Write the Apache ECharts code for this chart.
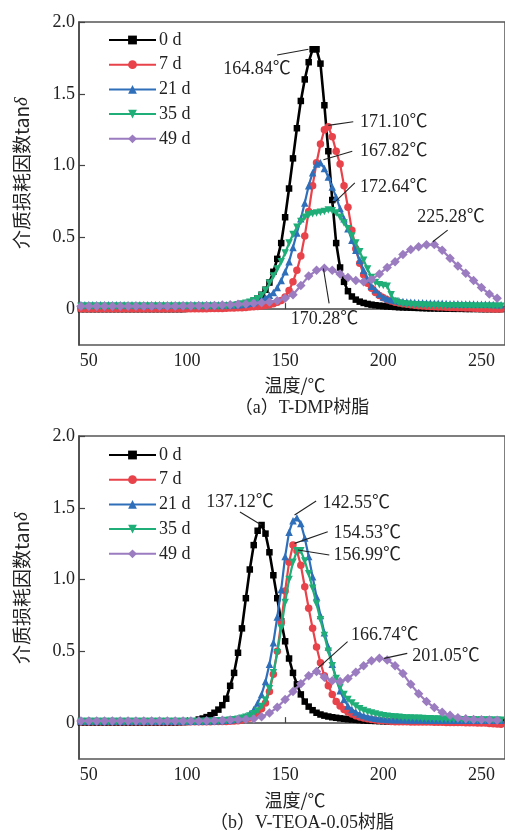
<!DOCTYPE html>
<html>
<head>
<meta charset="utf-8">
<script src="https://cdn.jsdelivr.net/npm/echarts@6/dist/echarts.min.js"></script>
<style>
html,body{margin:0;padding:0;background:#fff;}
#main{width:505px;height:834px;}
</style>
</head>
<body>
<div id="main"></div>
<script>
// ---------- DATA ----------
const seriesNames = ['0 d', '7 d', '21 d', '35 d', '49 d'];

// temperatures (°C) sampled for 0 d, 7 d, 21 d, 35 d
const temps = [
  46,48,50,52,54,56,58,60,62,64,
  66,68,70,72,74,76,78,80,82,84,
  86,88,90,92,94,96,98,100,102,104,
  106,108,110,112,114,116,118,120,122,124,
  126,128,130,132,134,136,138,140,142,144,
  146,148,150,152,154,156,158,160,162,164,
  166,168,170,172,174,176,178,180,182,184,
  186,188,190,192,194,196,198,200,202,204,
  206,208,210,212,214,216,218,220,222,224,
  226,228,230,232,234,236,238,240,242,244,
  246,248,250,252,254,256,258,260
];
// temperatures sampled for 49 d
const temps49 = [
  46,50,54,58,62,66,70,74,78,82,
  86,90,94,98,102,106,110,114,118,122,
  126,130,134,138,142,146,150,154,158,162,
  166,170,174,178,182,186,190,194,198,202,
  206,210,214,218,222,226,230,234,238,242,
  246,250,254,258
];

// (a) T-DMP resin
const a_0d = [
  0,0,0,0,0,0,0,0,0,0,
  0,0,0,0,0,0,0,0,0,0,
  0,0,0,0,0,0,0,0.002,0.003,0.004,
  0.005,0.006,0.007,0.008,0.01,0.012,0.014,0.016,0.018,0.021,
  0.025,0.03,0.036,0.045,0.058,0.075,0.1,0.135,0.185,0.26,
  0.35,0.46,0.64,0.84,1.05,1.26,1.45,1.6,1.72,1.81,
  1.81,1.71,1.42,1.1,0.76,0.46,0.29,0.19,0.125,0.088,
  0.066,0.052,0.043,0.036,0.031,0.027,0.024,0.021,0.019,0.017,
  0.015,0.013,0.012,0.011,0.01,0.009,0.008,0.007,0.006,0.005,
  0.005,0.004,0.004,0.003,0.003,0.002,0.002,0.002,0.001,0.001,
  0.001,0.001,0,0,0,0,0,0
];
const a_7d = [
  0.003,0.003,0.003,0.003,0.003,0.003,0.003,0.003,0.003,0.003,
  0.003,0.003,0.003,0.003,0.003,0.003,0.003,0.003,0.003,0.003,
  0.003,0.003,0.003,0.003,0.003,0.003,0.003,0.003,0.003,0.003,
  0.003,0.003,0.003,0.004,0.004,0.005,0.005,0.006,0.007,0.008,
  0.009,0.01,0.012,0.014,0.016,0.019,0.022,0.026,0.031,0.038,
  0.047,0.06,0.085,0.13,0.19,0.27,0.37,0.51,0.68,0.86,
  1.02,1.15,1.25,1.27,1.2,1.1,1.01,0.86,0.71,0.55,
  0.42,0.32,0.24,0.18,0.145,0.115,0.095,0.08,0.066,0.056,
  0.048,0.042,0.037,0.033,0.03,0.027,0.024,0.022,0.02,0.018,
  0.016,0.015,0.014,0.013,0.012,0.011,0.01,0.009,0.008,0.007,
  0.006,0.005,0.004,0.003,0.002,0.001,0,0
];
const a_21d = [
  0.03,0.03,0.03,0.03,0.03,0.03,0.03,0.03,0.03,0.03,
  0.03,0.03,0.03,0.03,0.03,0.03,0.03,0.03,0.03,0.03,
  0.03,0.03,0.03,0.03,0.03,0.03,0.03,0.03,0.03,0.03,
  0.03,0.03,0.03,0.03,0.03,0.03,0.03,0.03,0.03,0.031,
  0.031,0.032,0.035,0.04,0.046,0.055,0.066,0.08,0.096,0.115,
  0.15,0.2,0.26,0.33,0.43,0.53,0.63,0.74,0.86,0.95,
  1.01,1.02,0.98,0.92,0.85,0.78,0.7,0.63,0.56,0.48,
  0.41,0.34,0.27,0.21,0.16,0.135,0.105,0.085,0.073,0.066,
  0.06,0.056,0.053,0.05,0.048,0.046,0.045,0.044,0.043,0.042,
  0.041,0.04,0.04,0.039,0.038,0.038,0.037,0.036,0.036,0.035,
  0.035,0.034,0.034,0.033,0.033,0.032,0.032,0.031
];
const a_35d = [
  0.02,0.02,0.02,0.02,0.02,0.02,0.02,0.02,0.02,0.02,
  0.02,0.02,0.02,0.02,0.02,0.02,0.02,0.02,0.02,0.02,
  0.02,0.02,0.02,0.02,0.02,0.02,0.02,0.02,0.02,0.02,
  0.02,0.02,0.02,0.02,0.02,0.02,0.02,0.021,0.022,0.025,
  0.03,0.035,0.04,0.048,0.058,0.072,0.095,0.13,0.18,0.23,
  0.28,0.33,0.39,0.46,0.52,0.57,0.61,0.64,0.655,0.665,
  0.67,0.675,0.68,0.69,0.685,0.67,0.64,0.6,0.56,0.51,
  0.46,0.4,0.34,0.28,0.22,0.185,0.17,0.165,0.16,0.1,
  0.055,0.042,0.037,0.034,0.032,0.03,0.029,0.028,0.027,0.026,
  0.025,0.025,0.024,0.024,0.023,0.023,0.022,0.022,0.021,0.021,
  0.02,0.02,0.02,0.02,0.02,0.02,0.02,0.02
];
const a_49d = [
  0.02,0.02,0.02,0.02,0.02,0.02,0.02,0.02,0.02,0.02,
  0.02,0.02,0.02,0.021,0.022,0.023,0.024,0.026,0.028,0.03,
  0.033,0.036,0.04,0.044,0.05,0.058,0.075,0.1,0.165,0.23,
  0.27,0.285,0.27,0.245,0.22,0.2,0.19,0.205,0.245,0.29,
  0.33,0.38,0.415,0.435,0.448,0.45,0.41,0.355,0.3,0.25,
  0.2,0.15,0.105,0.075
];

// (b) V-TEOA-0.05 resin
const b_0d = [
  0.005,0.005,0.005,0.005,0.005,0.005,0.005,0.005,0.005,0.005,
  0.005,0.005,0.005,0.005,0.005,0.005,0.005,0.005,0.005,0.005,
  0.005,0.005,0.005,0.005,0.005,0.006,0.007,0.008,0.01,0.013,
  0.025,0.032,0.042,0.055,0.072,0.094,0.125,0.17,0.26,0.35,
  0.49,0.66,0.87,1.07,1.24,1.34,1.38,1.32,1.19,1.03,
  0.87,0.71,0.57,0.45,0.35,0.27,0.2,0.15,0.115,0.09,
  0.072,0.06,0.052,0.046,0.041,0.037,0.033,0.03,0.027,0.025,
  0.023,0.021,0.019,0.017,0.016,0.015,0.014,0.013,0.012,0.012,
  0.012,0.011,0.011,0.011,0.011,0.01,0.01,0.01,0.01,0.01,
  0.01,0.01,0.01,0.01,0.01,0.01,0.01,0.01,0.01,0.01,
  0.01,0.01,0.01,0.01,0.01,0.01,0.01,0.01
];
const b_7d = [
  0.01,0.01,0.01,0.01,0.01,0.01,0.01,0.01,0.01,0.01,
  0.01,0.01,0.01,0.01,0.01,0.01,0.01,0.01,0.01,0.01,
  0.01,0.01,0.01,0.01,0.01,0.01,0.01,0.01,0.01,0.01,
  0.01,0.01,0.01,0.01,0.011,0.011,0.012,0.012,0.013,0.015,
  0.017,0.021,0.027,0.036,0.05,0.07,0.1,0.14,0.22,0.34,
  0.5,0.7,0.92,1.12,1.24,1.2,1.1,0.95,0.8,0.66,
  0.53,0.42,0.33,0.26,0.2,0.15,0.12,0.095,0.078,0.063,
  0.052,0.043,0.036,0.03,0.025,0.021,0.018,0.016,0.014,0.012,
  0.01,0.01,0.009,0.009,0.008,0.008,0.008,0.007,0.007,0.007,
  0.006,0.006,0.006,0.005,0.005,0.005,0.004,0.004,0.003,0.003,
  0.002,0.001,0,0,-0.002,-0.004,-0.006,-0.008
];
const b_21d = [
  0.015,0.015,0.015,0.015,0.015,0.015,0.015,0.015,0.015,0.015,
  0.015,0.015,0.015,0.015,0.015,0.015,0.015,0.015,0.015,0.015,
  0.015,0.015,0.015,0.015,0.015,0.015,0.015,0.015,0.015,0.015,
  0.015,0.015,0.016,0.016,0.017,0.018,0.019,0.02,0.022,0.025,
  0.03,0.037,0.048,0.066,0.095,0.14,0.2,0.29,0.41,0.56,
  0.74,0.93,1.16,1.33,1.41,1.43,1.39,1.29,1.16,1.02,
  0.88,0.75,0.63,0.53,0.41,0.31,0.225,0.165,0.12,0.095,
  0.078,0.064,0.053,0.045,0.039,0.034,0.031,0.028,0.026,0.025,
  0.024,0.023,0.023,0.022,0.022,0.021,0.021,0.021,0.02,0.02,
  0.02,0.02,0.02,0.02,0.02,0.02,0.02,0.02,0.02,0.02,
  0.02,0.02,0.02,0.02,0.02,0.02,0.02,0.02
];
const b_35d = [
  0.012,0.012,0.012,0.012,0.012,0.012,0.012,0.012,0.012,0.012,
  0.012,0.012,0.012,0.012,0.012,0.012,0.012,0.012,0.012,0.012,
  0.012,0.012,0.012,0.012,0.012,0.012,0.012,0.012,0.012,0.012,
  0.012,0.012,0.013,0.013,0.014,0.015,0.016,0.018,0.02,0.023,
  0.027,0.033,0.04,0.05,0.065,0.085,0.115,0.16,0.24,0.35,
  0.49,0.66,0.84,1.0,1.12,1.2,1.2,1.13,1.04,0.94,
  0.83,0.72,0.61,0.5,0.4,0.31,0.25,0.2,0.165,0.14,
  0.12,0.1,0.088,0.078,0.07,0.063,0.057,0.052,0.048,0.045,
  0.042,0.04,0.038,0.036,0.035,0.034,0.033,0.032,0.031,0.03,
  0.029,0.028,0.027,0.027,0.026,0.025,0.025,0.024,0.024,0.023,
  0.023,0.022,0.022,0.021,0.021,0.02,0.02,0.02
];
const b_49d = [
  0.015,0.015,0.015,0.015,0.015,0.015,0.015,0.015,0.015,0.015,
  0.015,0.015,0.015,0.015,0.015,0.015,0.016,0.018,0.02,0.022,
  0.025,0.027,0.03,0.045,0.07,0.11,0.165,0.22,0.275,0.33,
  0.36,0.32,0.295,0.29,0.31,0.355,0.4,0.435,0.452,0.44,
  0.4,0.345,0.27,0.205,0.15,0.108,0.075,0.055,0.037,0.03,
  0.026,0.023,0.021,0.02
];

// Axis tick values
const xTicks = [50, 100, 150, 200, 250];
const yTicks = [0, 0.5, 1.0, 1.5, 2.0];

// Peak annotations (data coordinates): label text, peak point, leader end, label anchor
const annA = [
  {text:'164.84℃', peak:[161.9,1.81], end:[145.9,1.77], at:[135.7,1.67], align:'center'},
  {text:'171.10℃', peak:[172.0,1.28], end:[184.7,1.305], at:[188.1,1.305], align:'left'},
  {text:'167.82℃', peak:[169.5,1.04], end:[184.2,1.10], at:[188.1,1.103], align:'left'},
  {text:'172.64℃', peak:[173.7,0.725], end:[185.5,0.88], at:[188.1,0.852], align:'left'},
  {text:'225.28℃', peak:[225.2,0.469], end:[232.8,0.55], at:[234.5,0.639], align:'center'},
  {text:'170.28℃', peak:[169.5,0.283], end:[172.4,0.04], at:[170.0,-0.072], align:'center'}
];
const annB = [
  {text:'137.12℃', peak:[137.9,1.38], end:[127.0,1.47], at:[127.0,1.538], align:'center'},
  {text:'142.55℃', peak:[154.8,1.45], end:[165.8,1.547], at:[169.1,1.531], align:'left'},
  {text:'154.53℃', peak:[154.8,1.252], end:[171.7,1.333], at:[174.6,1.32], align:'left'},
  {text:'156.99℃', peak:[156.5,1.206], end:[172.5,1.171], at:[174.6,1.166], align:'left'},
  {text:'166.74℃', peak:[166.6,0.381], end:[181.8,0.567], at:[183.5,0.613], align:'left'},
  {text:'201.05℃', peak:[200.4,0.451], end:[212.2,0.486], at:[214.7,0.469], align:'left'}
];

// ---------- STYLE ----------
const FONT = '"Liberation Serif", "Times New Roman", "Noto Sans CJK SC", serif';
const CJK = '"Noto Sans CJK SC", "Liberation Serif", serif';
const styles = [
  {color:'#000000', symbol:'rect', size:6.5, width:2.6, rotate:0},
  {color:'#e8424a', symbol:'circle', size:7.5, width:2.2, rotate:0},
  {color:'#2f6fba', symbol:'triangle', size:7.5, width:2.2, rotate:0},
  {color:'#1fae78', symbol:'triangle', size:7.5, width:2.2, rotate:180},
  {color:'#9b7cc0', symbol:'diamond', size:9.5, width:2.2, rotate:0}
];

const chart = echarts.init(document.getElementById('main'), null, {renderer:'canvas'});

function makeSeries(gi, sets) {
  return sets.map((s, k) => ({
    type:'line',
    name: seriesNames[k],
    xAxisIndex: gi, yAxisIndex: gi,
    data: s.x.map((x, j) => [x, s.y[j]]),
    symbol: styles[k].symbol,
    symbolSize: styles[k].size,
    symbolRotate: styles[k].rotate,
    showAllSymbol: true,
    lineStyle: {color: styles[k].color, width: styles[k].width},
    itemStyle: {color: styles[k].color, borderWidth: 0},
    z: 2 + k,
    silent: true
  }));
}

function xAxisCfg(gi) {
  return {
    type:'value', gridIndex:gi, min:45, max:262,
    axisLine:{show:true, lineStyle:{color:'#444', width:1.5}},
    axisTick:{show:true, inside:true, length:6, lineStyle:{color:'#444', width:1.2},
      customValues: xTicks},
    axisLabel:{show:true, margin:7, color:'#222', fontSize:18, fontFamily:FONT,
      customValues: xTicks},
    splitLine:{show:false}
  };
}
function yAxisCfg(gi) {
  return {
    type:'value', gridIndex:gi, min:-0.25, max:2.0,
    axisLine:{show:true, lineStyle:{color:'#444', width:1.5}},
    axisTick:{show:true, inside:true, length:6, lineStyle:{color:'#444', width:1.2},
      customValues: yTicks},
    axisLabel:{show:true, margin:4, color:'#222', fontSize:18, fontFamily:FONT,
      customValues: yTicks,
      formatter: v => (v === 0 ? '0' : v.toFixed(1))},
    splitLine:{show:false}
  };
}
function legendCfg(top) {
  return {
    data: seriesNames, orient:'vertical', left:103, top:top,
    itemWidth:47, itemHeight:11, itemGap:4.7,
    textStyle:{fontSize:18, fontFamily:FONT, color:'#222', lineHeight:20, padding:[0,0,0,-2]},
    selectedMode:false
  };
}

const option = {
  animation:false,
  backgroundColor:'#fff',
  grid:[
    {left:79, right:-3, top:22, height:323, show:true, borderColor:'#555', borderWidth:1.5, backgroundColor:'transparent'},
    {left:79, right:-3, top:436, height:323, show:true, borderColor:'#555', borderWidth:1.5, backgroundColor:'transparent'}
  ],
  xAxis:[xAxisCfg(0), xAxisCfg(1)],
  yAxis:[yAxisCfg(0), yAxisCfg(1)],
  legend:[legendCfg(25), legendCfg(440)],
  series: [].concat(
    makeSeries(0, [
      {x:temps, y:a_0d}, {x:temps, y:a_7d}, {x:temps, y:a_21d}, {x:temps, y:a_35d}, {x:temps49, y:a_49d}
    ]),
    makeSeries(1, [
      {x:temps, y:b_0d}, {x:temps, y:b_7d}, {x:temps, y:b_21d}, {x:temps, y:b_35d}, {x:temps49, y:b_49d}
    ])
  )
};
chart.setOption(option);

// ---------- annotations & titles ----------
const graphics = [];
function addAnn(gi, list) {
  list.forEach(a => {
    const p1 = chart.convertToPixel({gridIndex:gi}, a.peak);
    const p2 = chart.convertToPixel({gridIndex:gi}, a.end);
    const pt = chart.convertToPixel({gridIndex:gi}, a.at);
    graphics.push({type:'line', z:50, shape:{x1:p1[0], y1:p1[1], x2:p2[0], y2:p2[1]},
      style:{stroke:'#222', lineWidth:1.1}});
    graphics.push({type:'text', z:50, x:pt[0], y:pt[1],
      style:{text:a.text, fontSize:18, fontFamily:FONT, fill:'#222', align:a.align, verticalAlign:'middle'}});
  });
}
addAnn(0, annA);
addAnn(1, annB);

function addTitles(yName, xNameY, subY, subText) {
  graphics.push({type:'text', x:22, y:yName, rotation:Math.PI/2, z:50,
    style:{text:'介质损耗因数tan{i|δ}', fontSize:19, fontFamily:CJK, fill:'#222',
      align:'center', verticalAlign:'middle',
      rich:{i:{fontStyle:'italic', fontSize:19, fontFamily:FONT, fill:'#222'}}}});
  graphics.push({type:'text', x:295, y:xNameY, z:50,
    style:{text:'温度/℃', fontSize:18, fontFamily:CJK, fill:'#222', align:'center', verticalAlign:'middle'}});
  graphics.push({type:'text', x:302, y:subY, z:50,
    style:{text:subText, fontSize:18, fontFamily:FONT, fill:'#222', align:'center', verticalAlign:'middle'}});
}
addTitles(173, 385, 408, '（a）T-DMP树脂');
addTitles(588, 800, 823, '（b）V-TEOA-0.05树脂');

chart.setOption({graphic: graphics});
</script>
</body>
</html>
